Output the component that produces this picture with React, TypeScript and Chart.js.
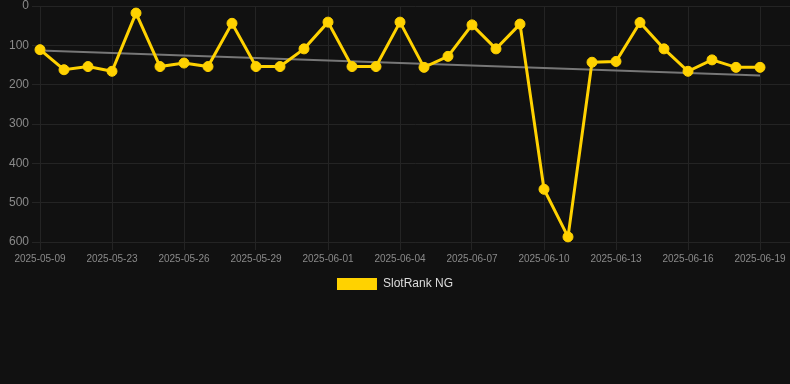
import React, { useEffect, useRef } from "react";
import { Chart, registerables } from "chart.js";

Chart.register(...registerables);

const dates = [
  "2025-05-09", "2025-05-15", "2025-05-20", "2025-05-23", "2025-05-24", "2025-05-25",
  "2025-05-26", "2025-05-27", "2025-05-28", "2025-05-29", "2025-05-30", "2025-05-31",
  "2025-06-01", "2025-06-02", "2025-06-03", "2025-06-04", "2025-06-05", "2025-06-06",
  "2025-06-07", "2025-06-08", "2025-06-09", "2025-06-10", "2025-06-11", "2025-06-12",
  "2025-06-13", "2025-06-14", "2025-06-15", "2025-06-16", "2025-06-17", "2025-06-18",
  "2025-06-19",
];

const rankValues = [
  111, 162, 154, 166, 18, 154, 145, 154, 44, 154, 154, 109,
  41, 154, 154, 41, 156, 128, 48, 109, 46, 466, 587, 143,
  141, 42, 109, 166, 137, 156, 156,
];

const trendStart = 113;
const trendEnd = 177;

const yTicks = [0, 100, 200, 300, 400, 500, 600];

const seriesName = "SlotRank NG";
const FONT = "'Liberation Sans', Arial, Helvetica, sans-serif";

export default function App() {
  const ref = useRef<HTMLCanvasElement | null>(null);

  useEffect(() => {
    document.body.style.margin = "0";
    document.body.style.background = "#111111";
    const canvas = ref.current;
    if (!canvas) return;

    const lineData = rankValues.map((v, i) => ({ x: i, y: v }));
    const trendData = [
      { x: 0, y: trendStart },
      { x: dates.length - 1, y: trendEnd },
    ];

    const chart = new Chart(canvas, {
      type: "line",
      data: {
        datasets: [
          {
            label: seriesName,
            data: lineData,
            borderColor: "#FFD200",
            backgroundColor: "#FFD200",
            borderWidth: 3,
            pointRadius: 5,
            pointHoverRadius: 5,
            pointBackgroundColor: "#FFD200",
            pointBorderColor: "#FFD200",
            pointBorderWidth: 1,
            tension: 0,
            clip: false,
            order: 1,
          },
          {
            label: "trend",
            data: trendData,
            borderColor: "#777777",
            backgroundColor: "#777777",
            borderWidth: 2,
            pointRadius: 0,
            tension: 0,
            order: 2,
          },
        ],
      },
      options: {
        responsive: false,
        animation: false,
        maintainAspectRatio: false,
        layout: { padding: 0, autoPadding: false },
        scales: {
          x: {
            type: "linear",
            min: 0,
            max: 31.25,
            afterFit: (scale: any) => {
              scale.paddingRight = 0;
              scale.paddingLeft = 0;
            },
            grid: { color: "#242424", tickLength: 8 },
            border: { color: "#242424" },
            ticks: {
              stepSize: 3,
              includeBounds: false,
              autoSkip: false,
              maxRotation: 0,
              color: "#8a8a8a",
              font: { family: FONT, size: 10 },
              callback: (value: any) => {
                const i = Number(value);
                return Number.isInteger(i) && dates[i] ? dates[i] : "";
              },
            },
          },
          y: {
            reverse: true,
            min: yTicks[0],
            max: yTicks[yTicks.length - 1],
            afterFit: (scale: any) => {
              scale.width = 40;
              scale.paddingTop = 6;
            },
            afterBuildTicks: (scale: any) => {
              scale.ticks = yTicks.map((v) => ({ value: v }));
            },
            grid: { color: "#242424", tickLength: 8 },
            border: { color: "#242424" },
            ticks: {
              color: "#8a8a8a",
              font: { family: FONT, size: 12 },
            },
          },
        },
        plugins: {
          legend: {
            position: "bottom",
            labels: {
              boxWidth: 40,
              boxHeight: 12,
              color: "#dddddd",
              font: { family: FONT, size: 12 },
              generateLabels: (c: any) =>
                Chart.defaults.plugins.legend.labels
                  .generateLabels(c)
                  .filter((item: any) => item.text === seriesName)
                  .map((item: any) => ({ ...item, lineWidth: 0 })),
            },
          },
          tooltip: { enabled: false },
        },
      },
    });

    return () => chart.destroy();
  }, []);

  return (
    <div style={{ position: "absolute", left: 0, top: 0, width: 790, height: 384, background: "#111111" }}>
      <canvas ref={ref} width={790} height={300} style={{ display: "block", width: 790, height: 300 }} />
    </div>
  );
}
